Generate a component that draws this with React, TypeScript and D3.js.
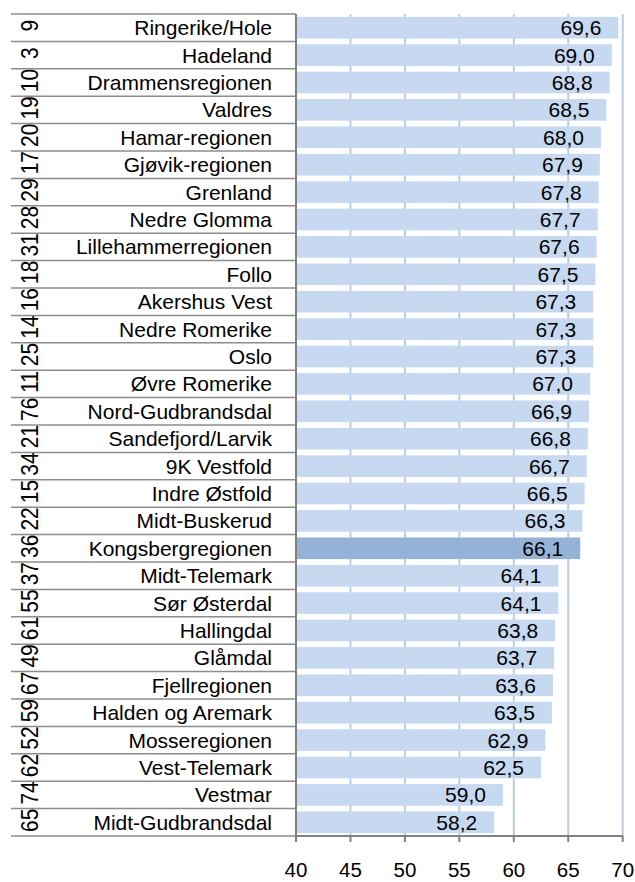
import React from "react";
import * as d3 from "d3";

const codes = ["9","3","10","19","20","17","29","28","31","18","16","14","25","11","76","21","34","15","22","36","37","55","61","49","67","59","52","62","74","65"];
const regions = ["Ringerike/Hole","Hadeland","Drammensregionen","Valdres","Hamar-regionen","Gjøvik-regionen","Grenland","Nedre Glomma","Lillehammerregionen","Follo","Akershus Vest","Nedre Romerike","Oslo","Øvre Romerike","Nord-Gudbrandsdal","Sandefjord/Larvik","9K Vestfold","Indre Østfold","Midt-Buskerud","Kongsbergregionen","Midt-Telemark","Sør Østerdal","Hallingdal","Glåmdal","Fjellregionen","Halden og Aremark","Mosseregionen","Vest-Telemark","Vestmar","Midt-Gudbrandsdal"];
const values = [69.6,69.0,68.8,68.5,68.0,67.9,67.8,67.7,67.6,67.5,67.3,67.3,67.3,67.0,66.9,66.8,66.7,66.5,66.3,66.1,64.1,64.1,63.8,63.7,63.6,63.5,62.9,62.5,59.0,58.2];
const highlight = "Kongsbergregionen";
const xTicks = [40,45,50,55,60,65,70];

const W = 635, H = 882;
const font = "'Liberation Sans', Arial, sans-serif";

export default function App() {
  const x = d3.scaleLinear().domain([40, 70]).range([296, 622.7]);
  const y = d3.scaleBand<string>().domain(regions).range([14, 836]).paddingInner(0.21).paddingOuter(0.105);
  const rowH = (836 - 14) / regions.length;
  const rowTop = (i: number) => 14 + i * rowH;
  const fmt = (v: number) => d3.format(".1f")(v).replace(".", ",");

  return (
    <svg width={W} height={H} style={{ position: "absolute", left: 0, top: 0, background: "#fff" }} fontFamily={font}>
      {xTicks.slice(1).map((t) => (
        <line key={"g" + t} x1={x(t)} x2={x(t)} y1={14} y2={836} stroke="#b9cde5" strokeWidth={2} />
      ))}
      {regions.map((r, i) => (
        <rect key={"b" + r} x={x(40)} y={y(r)} width={x(values[i]) - x(40)} height={y.bandwidth()}
          fill={r === highlight ? "#95b3d7" : "#c6d9f1"} />
      ))}
      {regions.map((r, i) => (
        <text key={"v" + r} x={x(values[i]) - 17} y={(y(r) ?? 0) + y.bandwidth() / 2} dy="0.36em"
          textAnchor="end" fontSize={21} fill="#000">{fmt(values[i])}</text>
      ))}
      {d3.range(regions.length + 1).map((i) => (
        <line key={"h" + i} x1={11} x2={296} y1={rowTop(i)} y2={rowTop(i)} stroke="#8c8c8c" strokeWidth={1.5} />
      ))}
      {regions.map((r, i) => (
        <text key={"n" + r} x={272} y={rowTop(i) + rowH / 2} dy="0.36em" textAnchor="end" fontSize={21} fill="#000">{r}</text>
      ))}
      {codes.map((c, i) => (
        <text key={"c" + i} transform={`translate(38,${rowTop(i) + rowH / 2 - 2}) rotate(-90) scale(1,1.15)`}
          textAnchor="middle" fontSize={21} fill="#000">{c}</text>
      ))}
      <line x1={296} x2={296} y1={14} y2={842} stroke="#808080" strokeWidth={2} />
      <line x1={296} x2={623} y1={836} y2={836} stroke="#808080" strokeWidth={2} />
      {xTicks.map((t) => (
        <g key={"t" + t}>
          <line x1={x(t)} x2={x(t)} y1={836} y2={842} stroke="#808080" strokeWidth={2} />
          <text x={x(t)} y={877} textAnchor="middle" fontSize={20.5} fill="#000">{t}</text>
        </g>
      ))}
    </svg>
  );
}
